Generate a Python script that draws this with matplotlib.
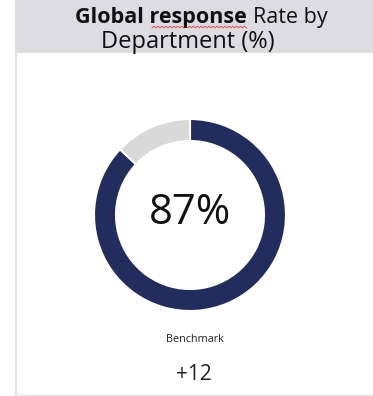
import matplotlib.pyplot as plt
import numpy as np
from matplotlib.patches import Rectangle

plt.rcParams['font.family'] = ['Open Sans', 'DejaVu Sans']

# response rate split: responded vs. not responded
segments = [87, 13]
segment_colors = ['#222d5e', '#d9d9d9']
title_bold = 'Global response'
title_rest = 'Rate by'
title_line2 = 'Department (%)'
center_label = '87%'
benchmark_label = 'Benchmark'
benchmark_delta = '+12'

W, H = 373, 396
fig = plt.figure(figsize=(W / 100, H / 100), dpi=100)
ax = fig.add_axes([0, 0, 1, 1])
ax.set_xlim(0, W)
ax.set_ylim(0, H)
ax.axis('off')

# header band and card edges
ax.add_patch(Rectangle((15, H - 53), W - 15, 53, facecolor='#dcdce1', edgecolor='none'))
ax.plot([15.5, 15.5], [0, H - 53], color='#e2e2ea', lw=1.6)
ax.plot([15, W], [1.5, 1.5], color='#ececf0', lw=1.2)

# title, first line mixes bold and regular weight, centred as a whole
renderer = fig.canvas.get_renderer()
t1 = ax.text(0, H - 23.5, title_bold, ha='left', va='baseline',
             fontsize=15.5, fontweight='bold', color='#111111')
t2 = ax.text(0, H - 23.5, title_rest, ha='left', va='baseline',
             fontsize=15.5, color='#111111')
w1 = t1.get_window_extent(renderer).width
w2 = t2.get_window_extent(renderer).width
gap = 6
x0 = 201 - (w1 + gap + w2) / 2
t1.set_x(x0)
t2.set_x(x0 + w1 + gap)
ax.text(188, H - 48, title_line2, ha='center', va='baseline',
        fontsize=17, color='#111111')

# spell-check squiggle under "response"
xs = np.linspace(x0 + 0.45 * w1, x0 + w1, 120)
ax.plot(xs, H - 27 + 0.8 * np.sin(xs * 1.6), color='#d9534f', lw=0.7)

# donut
ax.pie(segments, colors=segment_colors, startangle=90, counterclock=False,
       center=(190, H - 215), radius=96,
       wedgeprops=dict(width=22, edgecolor='white', linewidth=1.5))
ax.text(190, H - 213, center_label, ha='center', va='center',
        fontsize=30, color='#111111')

ax.text(195, H - 340, benchmark_label, ha='center', va='center',
        fontsize=7.8, color='#222222')
ax.text(194, H - 374, benchmark_delta, ha='center', va='center',
        fontsize=15, color='#222222')

ax.set_xlim(0, W)
ax.set_ylim(0, H)
ax.set_aspect('auto')

fig.savefig('out.png', dpi=100, facecolor='white')
